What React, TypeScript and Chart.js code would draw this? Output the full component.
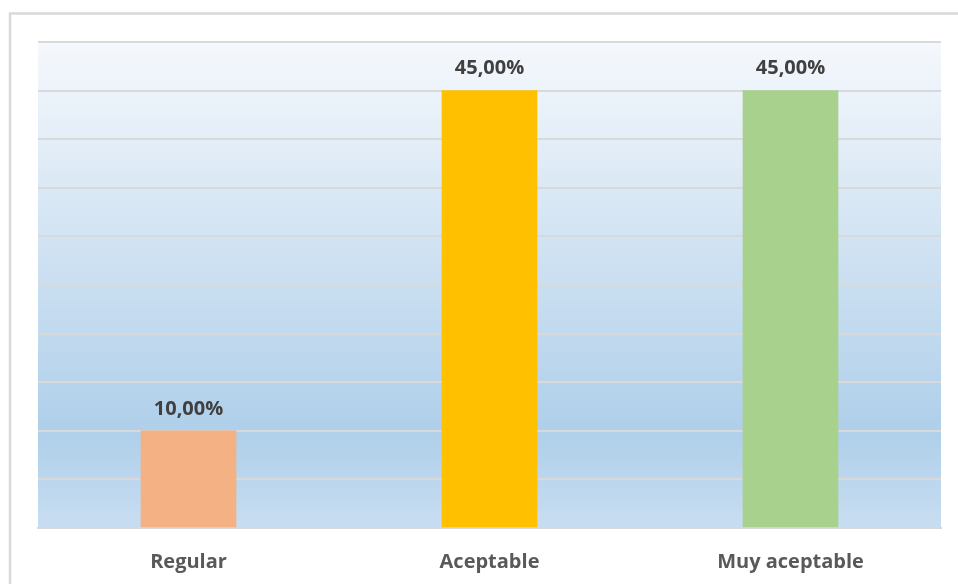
import React, { useEffect, useRef } from "react";
import { Chart, registerables } from "chart.js";

Chart.register(...registerables);

const categories = ["Regular", "Aceptable", "Muy aceptable"];
const values = [10, 45, 45];
const barColors = ["#F4B183", "#FFC000", "#A9D18E"];
const yMax = 50;
const yStep = 5;

const fmt = (v: number) => v.toFixed(2).replace(".", ",") + "%";

const bgPlugin = {
  id: "bgPlugin",
  beforeDraw(chart: any) {
    const { ctx, chartArea } = chart;
    const { left, right, top, bottom } = chartArea;
    ctx.save();
    ctx.fillStyle = "#ffffff";
    ctx.fillRect(0, 0, chart.width, chart.height);
    const g = ctx.createLinearGradient(0, top, 0, bottom);
    g.addColorStop(0, "#F5F8FC");
    g.addColorStop(0.8, "#AFCFEA");
    g.addColorStop(1, "#C8DDF1");
    ctx.fillStyle = g;
    ctx.fillRect(left, top, right - left, bottom - top);
    ctx.restore();
  },
  afterDraw(chart: any) {
    const { ctx } = chart;
    ctx.save();
    ctx.strokeStyle = "#D9D9D9";
    ctx.lineWidth = 2.5;
    ctx.strokeRect(10, 13.5, chart.width, chart.height);
    ctx.restore();
  },
};

const labelPlugin = {
  id: "labelPlugin",
  afterDatasetsDraw(chart: any) {
    const { ctx } = chart;
    const meta = chart.getDatasetMeta(0);
    ctx.save();
    ctx.font = "bold 20px 'Open Sans', sans-serif";
    ctx.fillStyle = "#404040";
    ctx.textAlign = "center";
    ctx.textBaseline = "middle";
    meta.data.forEach((bar: any, i: number) => {
      ctx.fillText(fmt(values[i]), bar.x, bar.y - 22);
    });
    ctx.restore();
  },
};

export default function App() {
  const ref = useRef<HTMLCanvasElement>(null);
  useEffect(() => {
    const chart = new Chart(ref.current!, {
      type: "bar",
      data: {
        labels: categories,
        datasets: [
          {
            data: values,
            backgroundColor: barColors,
            barThickness: 95,
          },
        ],
      },
      options: {
        responsive: false,
        animation: false,
        layout: { padding: { left: 38, right: 17, top: 42, bottom: 0 } },
        plugins: { legend: { display: false }, tooltip: { enabled: false } },
        scales: {
          x: {
            grid: { display: false },
            border: { color: "#D9D9D9", width: 2 },
            ticks: {
              color: "#595959",
              font: { family: "'Open Sans', sans-serif", size: 20, weight: "bold" },
              padding: 14,
            },
            afterFit: (s: any) => {
              s.height = 56;
            },
          },
          y: {
            min: 0,
            max: yMax,
            ticks: { display: false, stepSize: yStep },
            grid: { color: "#D9D9D9", lineWidth: 2, drawTicks: false },
            border: { display: false },
            afterFit: (s: any) => {
              s.width = 0;
            },
          },
        },
      },
      plugins: [bgPlugin, labelPlugin],
    });
    return () => chart.destroy();
  }, []);
  return (
    <div style={{ position: "fixed", left: 0, top: 0, width: 958, height: 584 }}>
      <canvas ref={ref} width={958} height={584} />
    </div>
  );
}
